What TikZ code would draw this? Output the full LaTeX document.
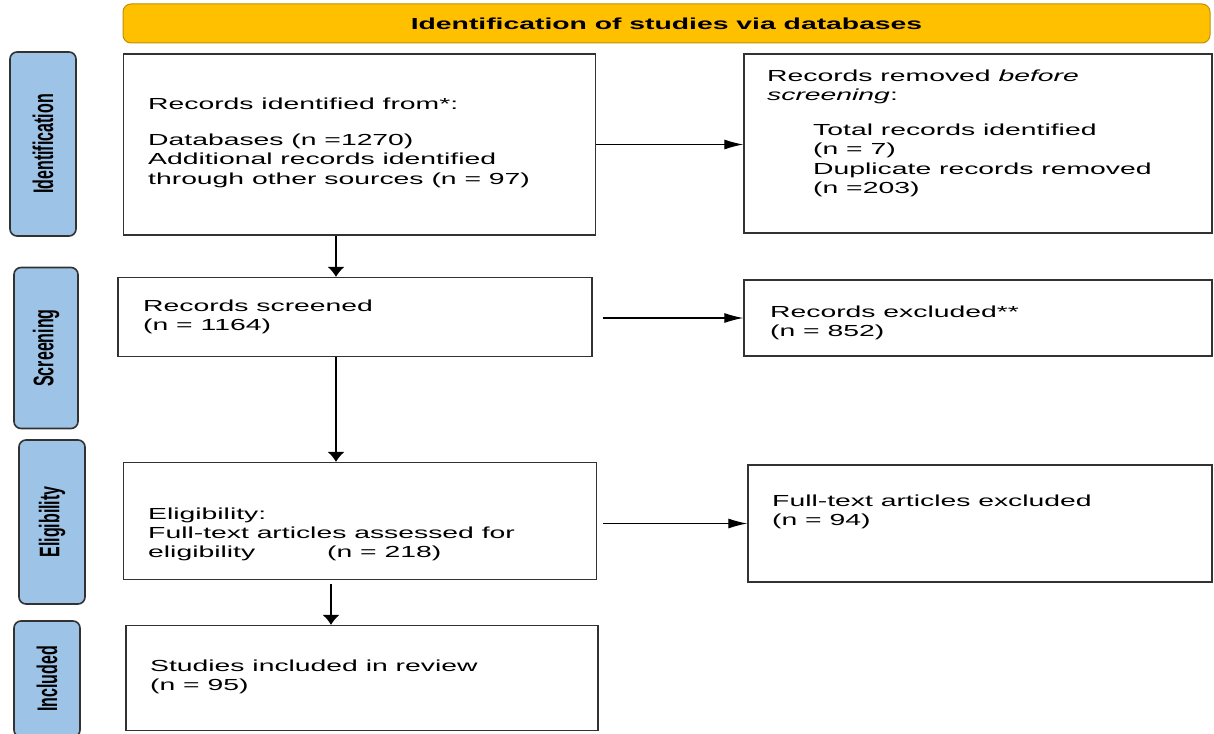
\documentclass[tikz,border=0pt]{standalone}
\usepackage{graphicx}
\usepackage{fontspec}
\setmainfont{Liberation Sans}[FakeStretch=1.77]
\newfontfamily\sidefont{Liberation Sans}
\usepackage{tikz}
\usetikzlibrary{arrows.meta,positioning,calc}
\definecolor{hdr}{RGB}{255,192,0}
\definecolor{hdrline}{RGB}{191,144,0}
\definecolor{phasebg}{RGB}{157,195,230}
\definecolor{ink}{RGB}{50,50,50}
\newcommand\plab[1]{\scalebox{1.77}[1]{\rotatebox{90}{\sidefont\bfseries #1}}}

\begin{document}
\begin{tikzpicture}[x=1pt,y=-1pt,>=Latex,font=\fontsize{16}{19.3}\selectfont]
\tikzset{box/.style={draw=ink,line width=1.3pt,inner sep=0pt},
  phase/.style={draw=ink,fill=phasebg,rounded corners=7pt,line width=1.6pt,inner sep=0pt},
  txt/.style={anchor=north west,align=left,inner sep=0pt},
  harr/.style={-{Latex[length=19pt,width=10pt]},line width=1.2pt},
  varr/.style={-{Latex[length=10pt,width=17pt]},line width=1.2pt}}
\clip (0,0) rectangle (1214,733);
\node[draw=hdrline,fill=hdr,rounded corners=8pt,line width=1pt,minimum width=1087,minimum height=39,font=\bfseries\fontsize{16}{19}\selectfont] (head) at (666.5,23.5) {Identification of studies via databases};
% phase labels
\node[phase,minimum width=66,minimum height=184] (pid) at (43,144) {\plab{Identification}};
\node[phase,minimum width=64,minimum height=161] (pscr) at (46,348) {\plab{Screening}};
\node[phase,minimum width=66,minimum height=164] (pelig) at (52,522) {\plab{Eligibility}};
\node[phase,minimum width=66,minimum height=116] (pinc) at (47,679) {\plab{Included}};
% boxes
\node[box,minimum width=472,minimum height=181] (recid) at (359.5,144.5) {};
\node[box,minimum width=468,minimum height=179] (removed) at (978,143.5) {};
\node[box,minimum width=474,minimum height=79] (screened) at (355,317) {};
\node[box,minimum width=468,minimum height=76] (excluded) at (978,318) {};
\node[box,minimum width=473,minimum height=117] (elig) at (360,521) {};
\node[box,minimum width=464,minimum height=117] (ftexcl) at (980,523.5) {};
\node[box,minimum width=472,minimum height=105] (incl) at (362,678) {};
% texts
\node[txt] (recid-t) at (148,97.5) {Records identified from*:\\[17pt]Databases (n =1270)\\Additional records identified\\through other sources (n = 97)};
\node[txt] (removed-t) at (767,69.3) {Records removed \textit{before}\\\textit{screening}:\\[16pt]\hspace*{46pt}Total records identified\\\hspace*{46pt}(n = 7)\\\hspace*{46pt}Duplicate records removed\\\hspace*{46pt}(n =203)};
\node[txt] (screened-t) at (143,299.3) {Records screened\\(n = 1164)};
\node[txt] (excluded-t) at (770,305.3) {Records excluded**\\(n = 852)};
\node[txt] (elig-t) at (148,507.3) {Eligibility:\\Full-text articles assessed for\\\makebox[179pt][l]{eligibility}(n = 218)};
\node[txt] (ftexcl-t) at (772,494.3) {Full-text articles excluded\\(n = 94)};
\node[txt] (incl-t) at (150,659.3) {Studies included in review\\(n = 95)};
% arrows
\coordinate (sp1) at (336,0);\coordinate (sp2) at (331,0);
\draw[varr] (recid.south -| sp1)--(screened.north -| sp1);\draw[varr] (screened.south -| sp1)--(elig.north -| sp1);
\draw[varr,shorten <=4pt] (elig.south -| sp2)--(incl.north -| sp2);
\draw[harr] (recid.east)--(recid.east -| removed.west);
\draw[harr,shorten <=10pt] (screened.east |- excluded.west)--(excluded.west);
\draw[harr,shorten <=6pt] (elig.east |- ftexcl.west)--(ftexcl.west);
\end{tikzpicture}
\end{document}
